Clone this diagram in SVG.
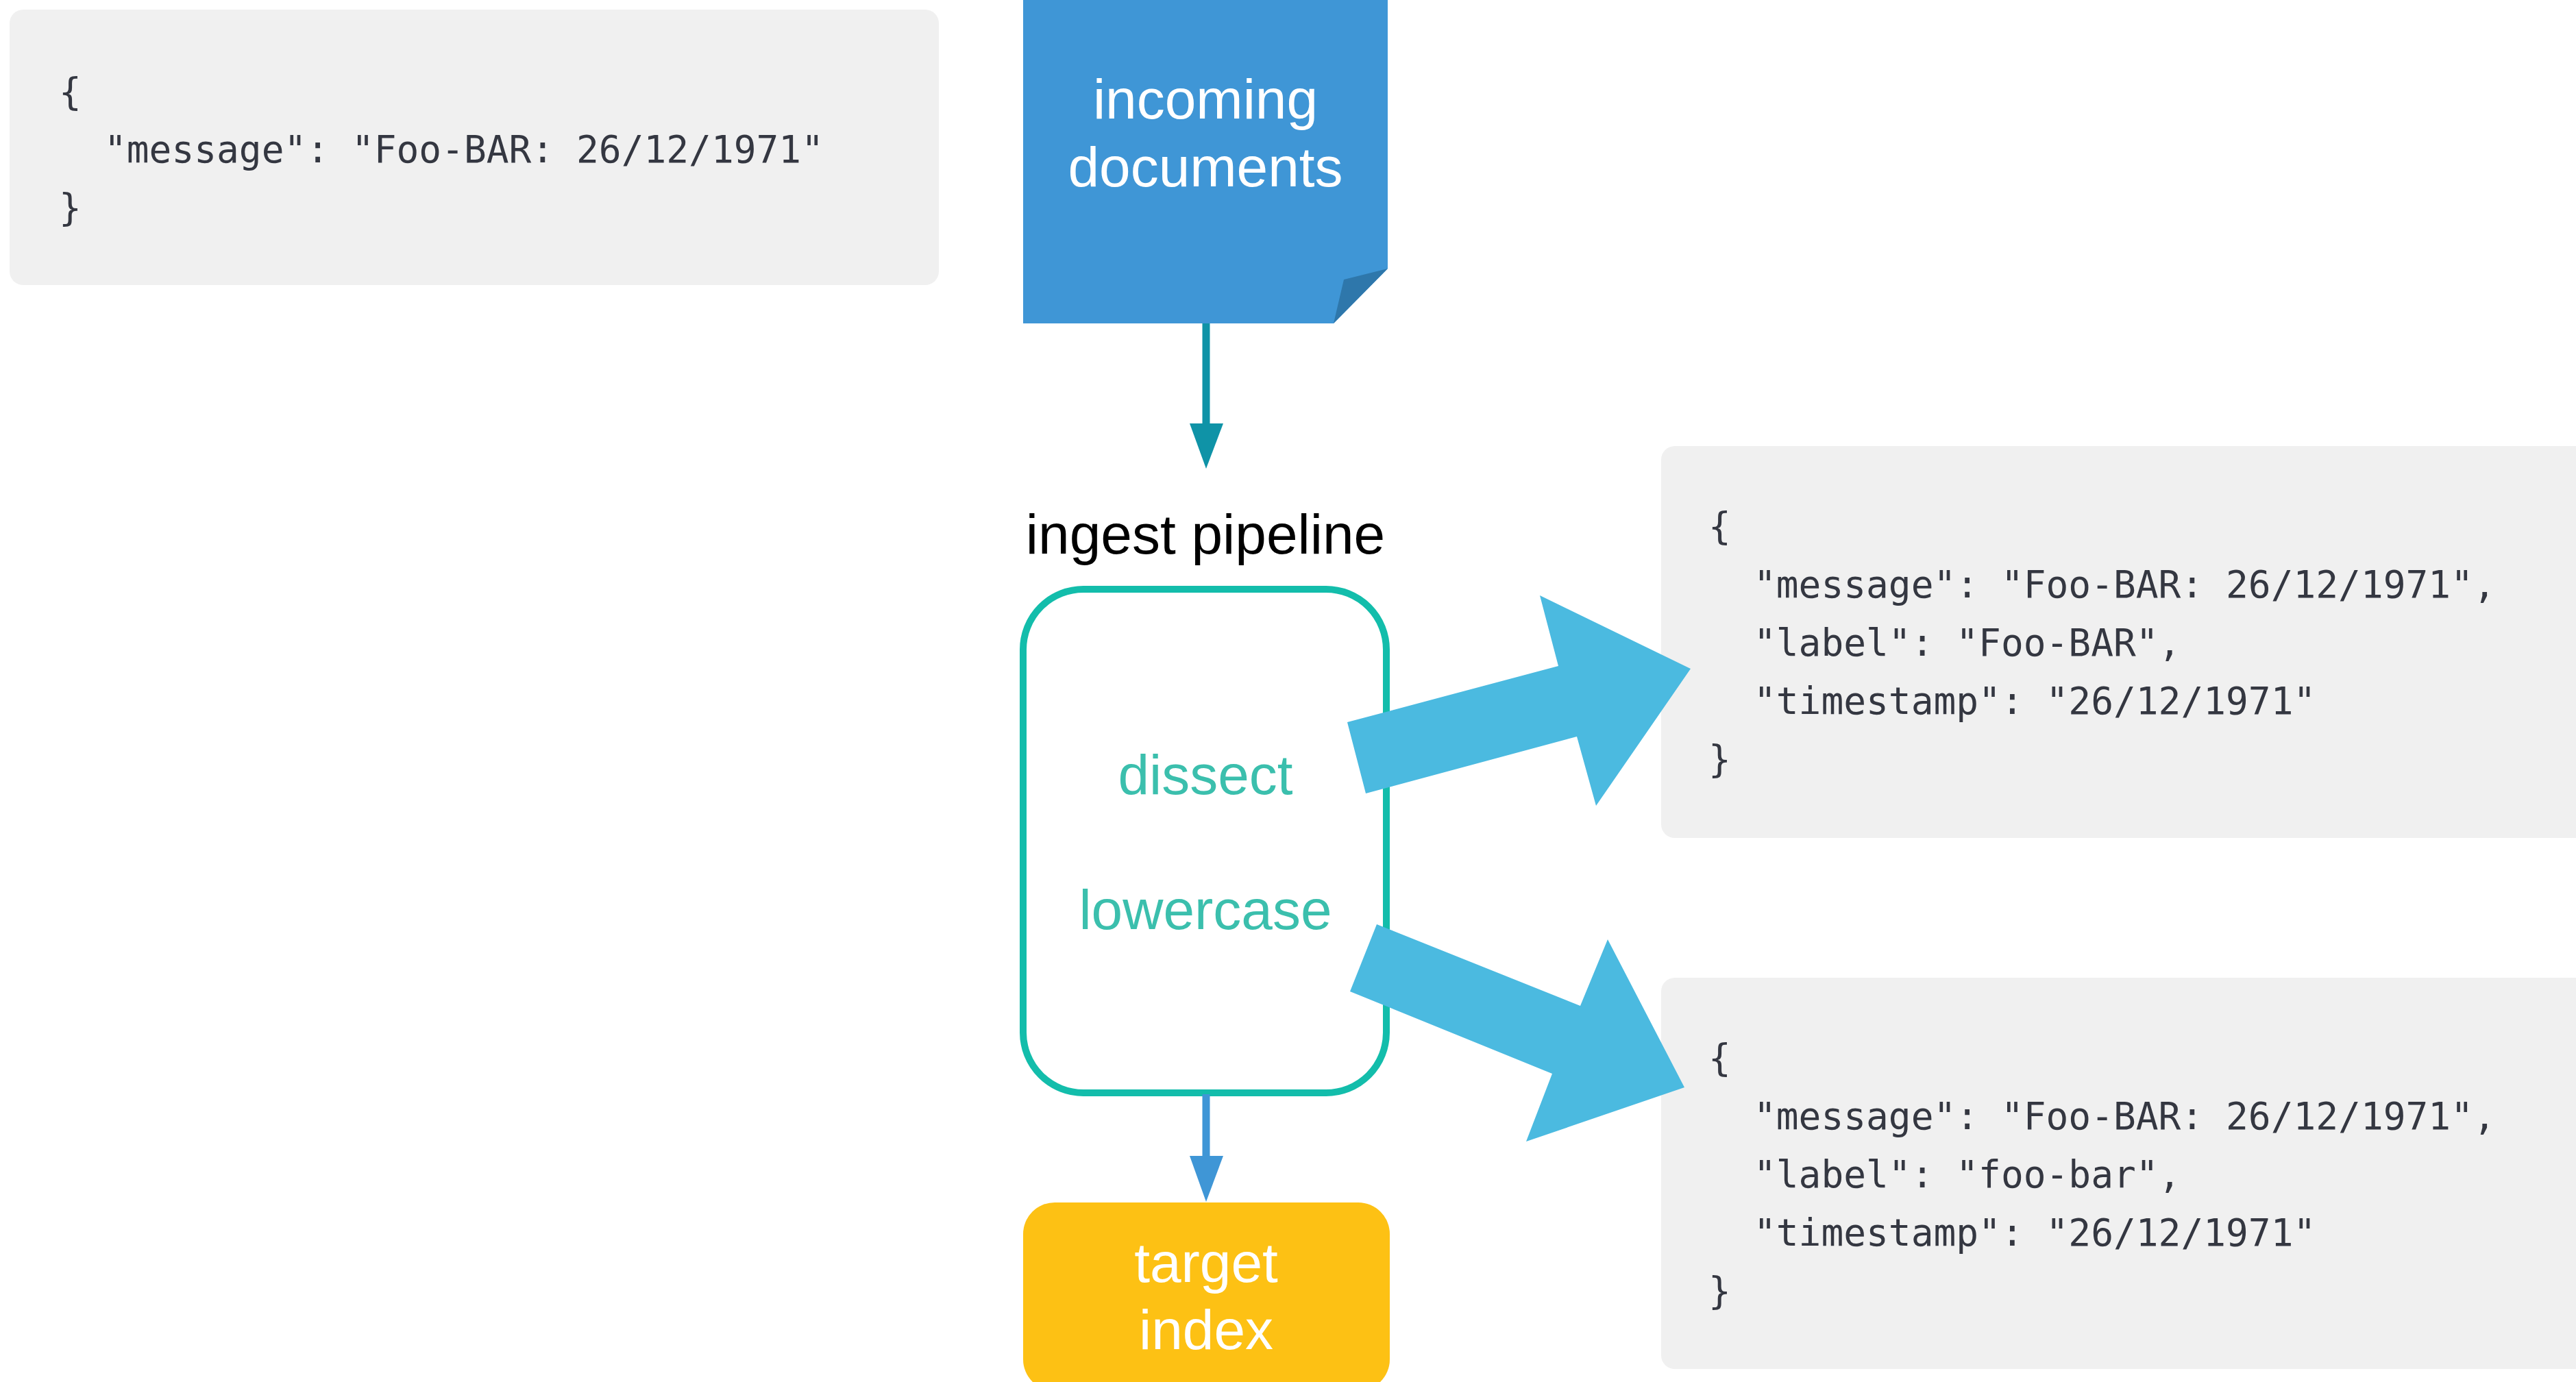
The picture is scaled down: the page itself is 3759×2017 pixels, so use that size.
<svg xmlns="http://www.w3.org/2000/svg" width="3759" height="2017" viewBox="0 0 3759 2017">
<style>
.code{fill:#f0f0f0}
.mono{font-family:"DejaVu Sans Mono","Liberation Mono",monospace;font-size:54.5px;fill:#343741}
.sans{font-family:"Liberation Sans",Arial,sans-serif;font-size:82px;text-anchor:middle}
.white{fill:#ffffff}
.big{fill:#4bbae0}
</style>
<rect width="3759" height="2017" fill="#ffffff"/>

<g id="input-json">
<rect class="code" x="14" y="14" width="1356" height="402" rx="20"/>
<text class="mono" x="86" y="153">{</text>
<text class="mono" x="152" y="237">"message": "Foo-BAR: 26/12/1971"</text>
<text class="mono" x="86" y="322">}</text>
</g>

<g id="incoming-documents">
<path d="M1493,0 H2025 V392 L1946,472 H1493 Z" fill="#3f96d6"/>
<path d="M2025,392 L1961,408 L1946,472 Z" fill="#2e77ab"/>
<text class="sans white" x="1759" y="173">incoming</text>
<text class="sans white" x="1759" y="272">documents</text>
</g>

<g id="ingest-pipeline">
<text class="sans" x="1759" y="808" fill="#000000">ingest pipeline</text>
<rect x="1493" y="860" width="530" height="735" rx="88" fill="none" stroke="#13bdab" stroke-width="10"/>
<text class="sans" x="1759" y="1159" fill="#3bbfad">dissect</text>
<text class="sans" x="1759" y="1356" fill="#3bbfad">lowercase</text>
</g>

<g id="target-index">
<rect x="1493" y="1755" width="535" height="275" rx="46" fill="#fdc114"/>
<text class="sans white" x="1760" y="1871">target</text>
<text class="sans white" x="1760" y="1969">index</text>
</g>

<g id="dissect-json">
<rect class="code" x="2424" y="651" width="1360" height="572" rx="20"/>
<text class="mono" x="2493" y="787">{</text>
<text class="mono" x="2559" y="872">"message": "Foo-BAR: 26/12/1971",</text>
<text class="mono" x="2559" y="957">"label": "Foo-BAR",</text>
<text class="mono" x="2559" y="1042">"timestamp": "26/12/1971"</text>
<text class="mono" x="2493" y="1127">}</text>
</g>

<g id="lowercase-json">
<rect class="code" x="2424" y="1427" width="1360" height="571" rx="20"/>
<text class="mono" x="2493" y="1563">{</text>
<text class="mono" x="2559" y="1648">"message": "Foo-BAR: 26/12/1971",</text>
<text class="mono" x="2559" y="1733">"label": "foo-bar",</text>
<text class="mono" x="2559" y="1818">"timestamp": "26/12/1971"</text>
<text class="mono" x="2493" y="1903">}</text>
</g>

<g id="connectors">
<line x1="1760" y1="472" x2="1760" y2="622" stroke="#0f93a7" stroke-width="11"/>
<path d="M1736,618 L1785,618 L1760,684 Z" fill="#0f93a7"/>
<line x1="1760" y1="1597" x2="1760" y2="1690" stroke="#3f96d6" stroke-width="11"/>
<path d="M1736,1687 L1785,1687 L1760,1754 Z" fill="#3f96d6"/>
<polygon class="big" points="1966,1054 2274,972 2247,869 2467,976 2329,1176 2301,1075 1993,1158"/>
<polygon class="big" points="2009,1349 2306,1468 2346,1371 2458,1587 2227,1666 2265,1567 1970,1447"/>
</g>
</svg>
